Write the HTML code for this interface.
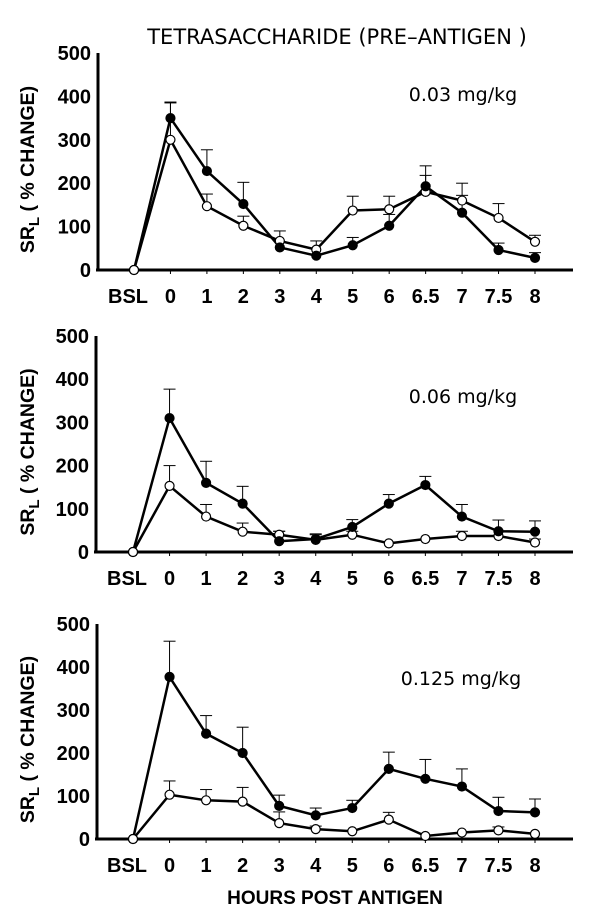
<!DOCTYPE html>
<html><head><meta charset="utf-8"><style>
body{margin:0;background:#fff;}
svg{display:block;}
.tk{font-family:"Liberation Sans",Arial,sans-serif;font-weight:bold;font-size:20px;}
.yt{font-family:"Liberation Sans",Arial,sans-serif;font-weight:bold;font-size:19.5px;}
.xt{font-family:"Liberation Sans",Arial,sans-serif;font-weight:bold;font-size:19px;}
.tt{font-family:"DejaVu Sans",sans-serif;font-size:21px;}
.dose{font-family:"DejaVu Sans",sans-serif;font-size:19px;}
</style></head><body>
<svg id="chart" width="600" height="915" xmlns="http://www.w3.org/2000/svg">
<text class="tt" x="337" y="44" text-anchor="middle">TETRASACCHARIDE (PRE–ANTIGEN )</text>
<text class="xt" x="335" y="904" text-anchor="middle">HOURS POST ANTIGEN</text>
</svg>
<script>
const categories=["BSL","0","1","2","3","4","5","6","6.5","7","7.5","8"];
const yTicks=[0,100,200,300,400,500];
const doses=["0.03 mg/kg","0.06 mg/kg","0.125 mg/kg"];
const filled1=[0,350,228,152,52,33,57,102,193,132,46,28];
const filledErr1=[0,385,277,202,52,33,75,128,240,172,62,40];
const open1=[0,300,147,102,67,47,137,140,180,160,120,65];
const openErr1=[0,387,175,124,90,67,170,170,218,200,153,80];
const filled2=[0,310,160,112,25,30,58,112,155,82,48,47];
const filledErr2=[0,377,210,152,48,42,75,133,175,110,74,72];
const open2=[0,153,82,47,40,28,40,20,30,37,37,22];
const openErr2=[0,200,110,67,48,40,48,20,30,48,37,30];
const filled3=[0,377,245,200,77,55,72,163,140,122,65,62];
const filledErr3=[0,460,287,260,102,72,90,202,185,163,97,93];
const open3=[0,103,90,87,37,23,18,45,7,15,20,12];
const openErr3=[0,135,115,120,63,30,18,62,7,15,28,12];

const panels=[
 {zero:270,top:53,axisX:98,x0:134,x8:535,dx:463,dy:101,f:filled1,fe:filledErr1,o:open1,oe:openErr1},
 {zero:552,top:336,axisX:96,x0:133,x8:535,dx:463,dy:403,f:filled2,fe:filledErr2,o:open2,oe:openErr2},
 {zero:839,top:624,axisX:97,x0:133,x8:535,dx:461,dy:685,f:filled3,fe:filledErr3,o:open3,oe:openErr3}
];
const svg=document.getElementById('chart');
const NS='http://www.w3.org/2000/svg';
function mk(tag,attrs,parent){const e=document.createElementNS(NS,tag);for(const k in attrs)e.setAttribute(k,attrs[k]);(parent||svg).appendChild(e);return e;}
panels.forEach((p,pi)=>{
 const g=mk('g',{});
 
 
 const xs=i=>p.x0+(p.x8-p.x0)*i/(categories.length-1);
 const ys=v=>p.zero-(p.zero-p.top)*v/500;
 const ya=mk('line',{x1:p.axisX,y1:p.top,x2:p.axisX,y2:p.zero,stroke:'#000','stroke-width':3},g);
 
 
 const xa=mk('line',{x1:p.axisX-2,y1:p.zero,x2:573,y2:p.zero,stroke:'#000','stroke-width':3},g);
 
 
 yTicks.forEach(t=>{
  const tl=mk('text',{x:p.axisX-7,y:ys(t)+7,'text-anchor':'end',class:'tk'},g);tl.textContent=t;
  
  
 });
 categories.forEach((c,i)=>{
  mk('line',{x1:xs(i),y1:p.zero,x2:xs(i),y2:p.zero+4,stroke:'#000','stroke-width':1},g);
  const tl=mk('text',{x:xs(i)+(i==0?-6:0),y:p.zero+33,'text-anchor':'middle',class:'tk'},g);tl.textContent=c;
  
  
 });
 const yl=mk('text',{x:0,y:0,'text-anchor':'middle',class:'yt',transform:`translate(34,${(p.top+p.zero)/2+8}) rotate(-90)`},g);
 yl.innerHTML='SR<tspan font-size="15" dy="5">L</tspan><tspan dy="-5"> ( % CHANGE)</tspan>';
 
 
 const dl=mk('text',{x:p.dx,y:p.dy,'text-anchor':'middle',class:'dose'},g);dl.textContent=doses[pi];
 
 
 [[p.o,p.oe,'#fff','open-series'],[p.f,p.fe,'#000','filled-series']].forEach(([vals,errs,fill,name])=>{
  vals.forEach((v,i)=>{ if(errs[i]>v){
   mk('line',{x1:xs(i),y1:ys(v),x2:xs(i),y2:ys(errs[i]),stroke:'#000','stroke-width':1},g);
   const cap=mk('line',{x1:xs(i)-6,y1:ys(errs[i]),x2:xs(i)+6,y2:ys(errs[i]),stroke:'#000','stroke-width':1},g);
   
   
  }});
  const pl=mk('polyline',{points:vals.map((v,i)=>xs(i)+','+ys(v)).join(' '),fill:'none',stroke:'#000','stroke-width':2.5},g);
  
  
 });
 [[p.o,'#fff','open-point'],[p.f,'#000','filled-point']].forEach(([vals,fill,name])=>{
  vals.forEach((v,i)=>{
   const c=mk('circle',{cx:xs(i),cy:ys(v),r:4.5,fill:(i==0?'#fff':fill),stroke:'#000','stroke-width':1.2},g);
   
   
  });
 });
});
</script>
</body></html>
